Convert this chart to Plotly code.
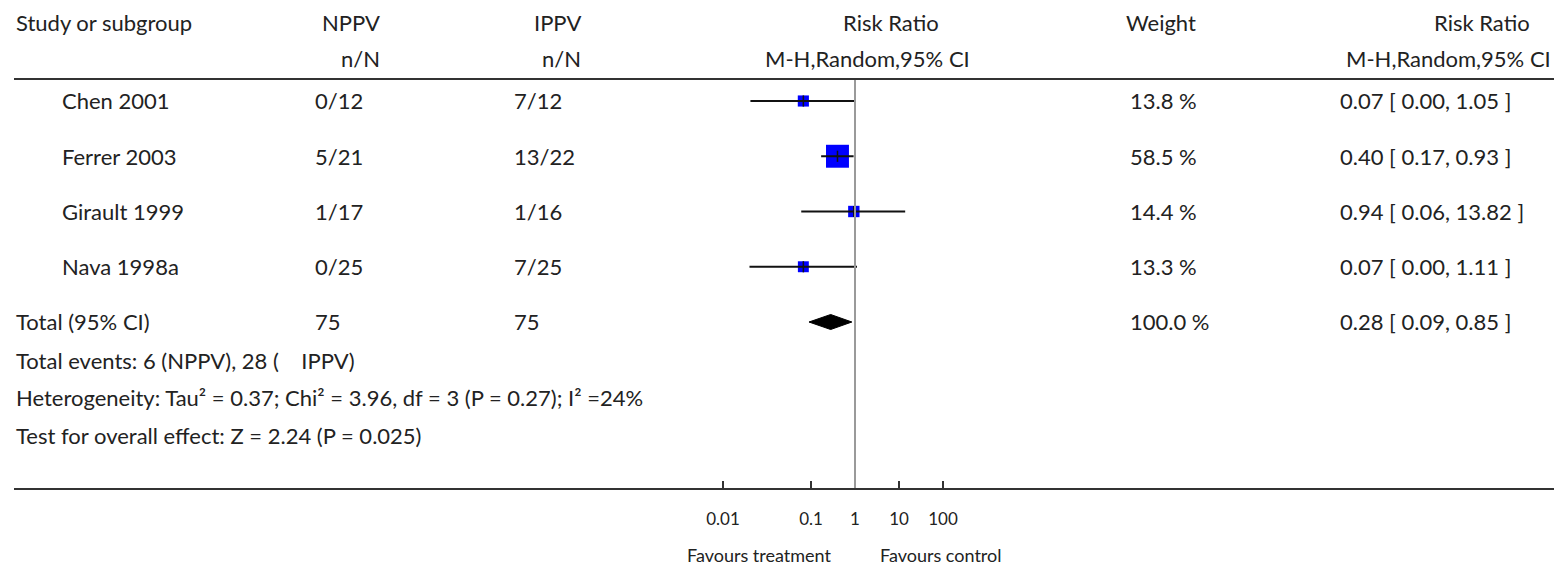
import math
import plotly.graph_objects as go

# ---------------- data ----------------
studies = ["Chen 2001", "Ferrer 2003", "Girault 1999", "Nava 1998a"]
nppv_events = ["0/12", "5/21", "1/17", "0/25"]
ippv_events = ["7/12", "13/22", "1/16", "7/25"]
risk_ratio = [0.067, 0.40, 0.94, 0.067]
ci_low = [0.0042, 0.17, 0.06, 0.0040]
ci_high = [1.05, 0.93, 13.82, 1.11]
weights = [13.8, 58.5, 14.4, 13.3]
weight_labels = ["13.8 %", "58.5 %", "14.4 %", "13.3 %"]
rr_labels = ["0.07 [ 0.00, 1.05 ]", "0.40 [ 0.17, 0.93 ]",
             "0.94 [ 0.06, 13.82 ]", "0.07 [ 0.00, 1.11 ]"]
total_rr, total_low, total_high = 0.28, 0.09, 0.85
total_n = ["75", "75"]
total_weight = "100.0 %"
total_label = "0.28 [ 0.09, 0.85 ]"
tick_vals = [0.001, 0.1, 1, 10, 100]
tick_text = ["0.01", "0.1", "1", "10", "100"]
footer_lines = [
    "Total events: 6 (NPPV), 28 (\u00a0\u00a0\u00a0\u00a0IPPV)",
    "Heterogeneity: Tau\u00b2 = 0.37; Chi\u00b2 = 3.96, df = 3 (P = 0.27); I\u00b2 =24%",
    "Test for overall effect: Z = 2.24 (P = 0.025)",
]

# ---------------- geometry (page pixels) ----------------
OFF = 8                      # default body margin of the html page
W, H = 1562 - OFF, 569 - OFF  # figure size
AX_Y = 489                   # page row of bottom rule / axis
TOP_RULE = 79
ROW0, ROW_STEP = 101, 55.25
X_ONE, PX_DECADE = 855, 44.0

AXF = AX_Y - OFF             # axis row inside the figure
FONT = "Gill Sans, Gill Sans MT, Lato, sans-serif"
TXT = "#222222"
FS = 22


def px(x):
    return (x - OFF) / W


def py(y):
    return (AXF - (y - OFF)) / AXF


def row_of(y):
    return (y - ROW0) / ROW_STEP


fig = go.Figure()

rows = list(range(len(studies)))
total_row = len(studies)

# squares
fig.add_trace(go.Scatter(
    x=risk_ratio, y=rows, mode="markers",
    marker=dict(symbol="square", color="#0000ff", opacity=1,
                size=[3.0 * math.sqrt(w) for w in weights], line=dict(width=0)),
    hoverinfo="skip", showlegend=False))

# CI lines
lx, ly = [], []
for lo, hi, r in zip(ci_low, ci_high, rows):
    lx += [lo, hi, None]
    ly += [r, r, None]
fig.add_trace(go.Scatter(x=lx, y=ly, mode="lines",
                         line=dict(color="#111111", width=2),
                         hoverinfo="skip", showlegend=False))
# centre ticks
fig.add_trace(go.Scatter(
    x=risk_ratio, y=rows, mode="markers",
    marker=dict(symbol="line-ns", size=8, opacity=1,
                line=dict(color="#111111", width=1.5)),
    hoverinfo="skip", showlegend=False))

# diamond
dh = 7.5 / ROW_STEP
fig.add_trace(go.Scatter(
    x=[total_low, total_rr, total_high, total_rr, total_low],
    y=[total_row, total_row - dh, total_row, total_row + dh, total_row],
    mode="lines", fill="toself", fillcolor="#000000",
    line=dict(color="#000000", width=1), hoverinfo="skip", showlegend=False))

# vertical line of no effect
fig.add_shape(type="line", xref="x", yref="paper", x0=1, x1=1,
              y0=0, y1=py(TOP_RULE), line=dict(color="#9a9a9a", width=2))
# rules
for yy in (TOP_RULE, AX_Y):
    fig.add_shape(type="line", xref="paper", yref="paper",
                  x0=px(14), x1=px(1557), y0=py(yy), y1=py(yy),
                  line=dict(color="#333333", width=2))

ann = []


def text(x, y, s, anchor="left", size=FS):
    ann.append(dict(x=px(x), y=py(y), xref="paper", yref="paper", text=s,
                    showarrow=False, xanchor=anchor, yanchor="middle",
                    font=dict(family=FONT, size=size, color=TXT)))


# headers
text(14, 22, "Study or subgroup")
text(382, 22, "NPPV", "right")
text(382, 58, "n/N", "right")
text(583, 22, "IPPV", "right")
text(583, 58, "n/N", "right")
text(891, 22, "Risk Ratio", "center")
text(867, 58, "M-H,Random,95% CI", "center")
text(1161, 22, "Weight", "center")
text(1482, 22, "Risk Ratio", "center")
text(1553, 58, "M-H,Random,95% CI", "right")

# study rows
for i, s in enumerate(studies):
    yy = ROW0 + ROW_STEP * i
    text(60, yy, s)
    text(313, yy, nppv_events[i])
    text(512, yy, ippv_events[i])
    text(1128, yy, weight_labels[i])
    text(1338, yy, rr_labels[i])

yy = ROW0 + ROW_STEP * total_row
text(14, yy, "Total (95% CI)")
text(313, yy, total_n[0])
text(512, yy, total_n[1])
text(1128, yy, total_weight)
text(1338, yy, total_label)

for k, line in enumerate(footer_lines):
    text(14, 360 + 37.5 * k, line)

text(833, 555, "Favours treatment", "right", 18)
text(878, 555, "Favours control", "left", 18)

fig.update_layout(
    width=W, height=H, autosize=False,
    margin=dict(l=0, r=0, t=0, b=H - AXF, pad=0),
    paper_bgcolor="white", plot_bgcolor="white",
    annotations=ann,
    xaxis=dict(type="log",
               range=[(OFF - X_ONE) / PX_DECADE, (OFF + W - X_ONE) / PX_DECADE],
               domain=[0, 1], showgrid=False, zeroline=False, showline=False,
               tickmode="array", tickvals=tick_vals, ticktext=tick_text,
               ticks="inside", ticklen=8, tickwidth=1.5, tickcolor="#333333",
               ticklabelstandoff=18,
               tickfont=dict(family=FONT, size=17, color=TXT), fixedrange=True),
    yaxis=dict(range=[row_of(AX_Y), row_of(OFF)], domain=[0, 1],
               visible=False, fixedrange=True),
)

fig.write_html("out.html")
